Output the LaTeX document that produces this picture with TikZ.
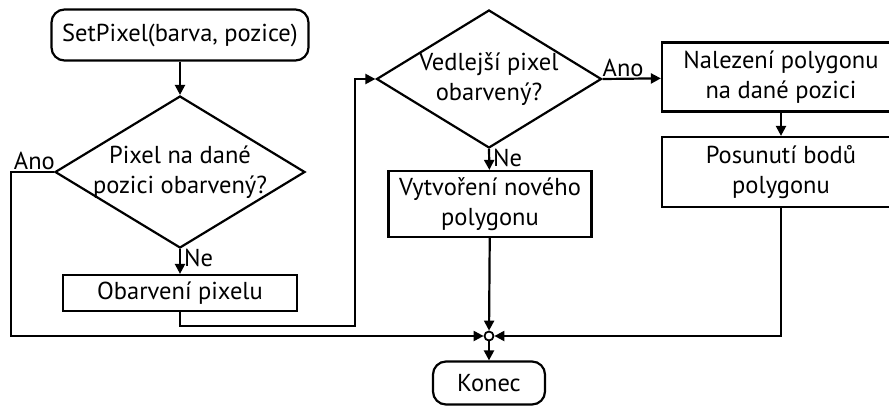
\documentclass[tikz,border=0pt]{standalone}
\usepackage{fontspec}
\setmainfont{PT Sans}
\usepackage{tikz}
\usetikzlibrary{arrows.meta,positioning,calc,shapes.geometric}

\begin{document}
\begin{tikzpicture}[x=1pt,y=-1pt,
  every node/.style={font=\fontsize{24.5}{30}\selectfont},
  box/.style={draw,line width=2.2pt,inner sep=2pt,align=center},
  term/.style={box,rounded corners=13pt},
  dec/.style={draw,line width=2.2pt,diamond,inner sep=-8pt,aspect=1.65,align=center},
  lbl/.style={inner sep=1pt},
  conn/.style={line width=2.2pt},
  arr/.style={conn,-{Triangle[length=10pt,width=10pt]}}]
  \useasboundingbox (0,0) rectangle (889,407);
  % nodes
  \node[term,minimum width=257pt,minimum height=51pt] (start) at (180,35) {SetPixel(barva, pozice)};
  \node[dec,minimum width=250pt,minimum height=152pt] (d1) at (180,172) {Pixel na dané\\pozici obarvený?};
  \node[box,minimum width=234pt,minimum height=36pt] (obarv) at (180,293) {Obarvení pixelu};
  \node[dec,minimum width=225pt,minimum height=138pt] (d2) at (489,79) {Vedlejší pixel\\obarvený?};
  \node[box,minimum width=203pt,minimum height=66pt] (vytv) at (490,204) {Vytvoření nového\\polygonu};
  \node[box,minimum width=238pt,minimum height=69pt] (nal) at (781,77) {Nalezení polygonu\\na dané pozici};
  \node[box,minimum width=238pt,minimum height=70pt] (posun) at (781,172) {Posunutí bodů\\polygonu};
  \node[draw,circle,line width=1.8pt,fill=white,minimum size=9pt,inner sep=0pt] (junc) at (489,336) {};
  \node[term,minimum width=112pt,minimum height=43pt] (konec) at (489,383) {Konec};
  \coordinate (loop) at (355,326);
  % connectors
  \draw[arr] (start) -- (d1);
  \draw[arr] (d1.south) -- node[lbl,pos=0,anchor=north west,xshift=2pt,yshift=2pt] {Ne} (obarv);
  \draw[arr] (d1.west) -- node[lbl,above,pos=0.5,xshift=2pt] {Ano} ($(d1.west)+(-43,0)$) |- (junc.west);
  \draw[arr] (obarv.south) |- (loop) |- (d2.west);
  \draw[arr] (d2.east) -- node[lbl,pos=0,anchor=south west,xshift=-2pt] {Ano} (nal);
  \draw[arr] (d2.south) -- node[lbl,pos=0,anchor=north west,xshift=2pt,yshift=2pt] {Ne} (vytv);
  \draw[arr] (nal) -- (posun);
  \draw[arr] (posun.south) |- (junc.east);
  \draw[arr] (vytv) -- (junc);
  \draw[arr] (junc) -- (konec);
\end{tikzpicture}
\end{document}
